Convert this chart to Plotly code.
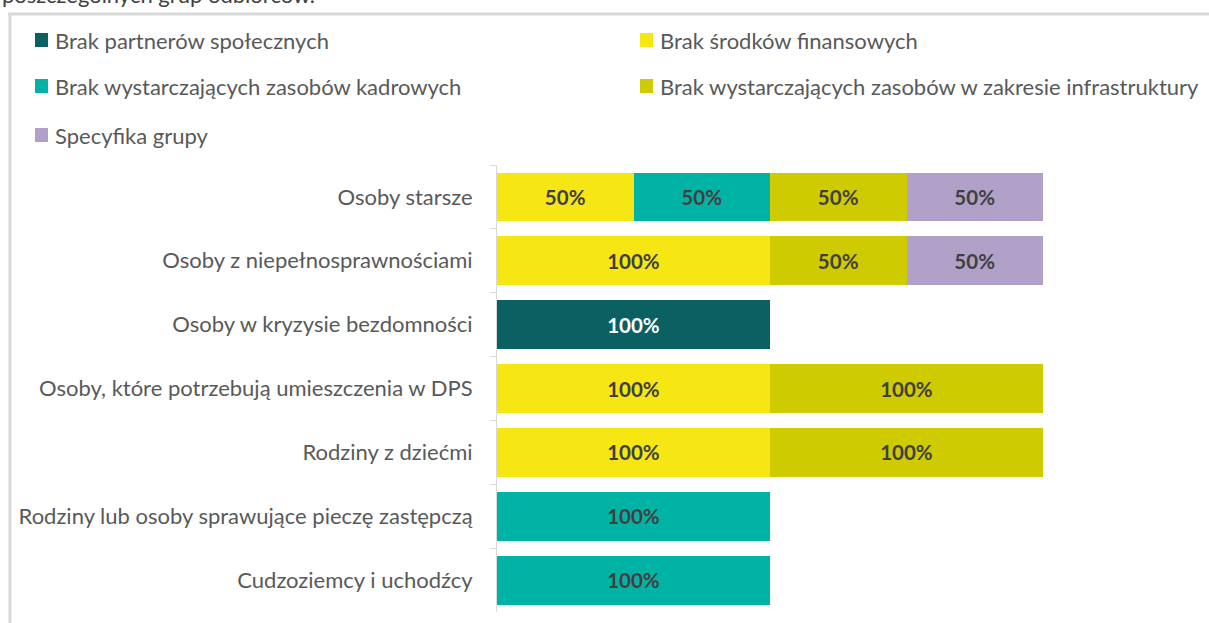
import plotly.graph_objects as go

# Target groups (top to bottom) and barrier shares in %
categories = [
    "Osoby starsze",
    "Osoby z niepełnosprawnościami",
    "Osoby w kryzysie bezdomności",
    "Osoby, które potrzebują umieszczenia w DPS",
    "Rodziny z dziećmi",
    "Rodziny lub osoby sprawujące pieczę zastępczą",
    "Cudzoziemcy i uchodźcy",
]
series_names = [
    "Brak partnerów społecznych",
    "Brak środków finansowych",
    "Brak wystarczających zasobów kadrowych",
    "Brak wystarczających zasobów w zakresie infrastruktury",
    "Specyfika grupy",
]
brak_partnerow = [None, None, 100, None, None, None, None]
brak_srodkow = [50, 100, None, 100, 100, None, None]
brak_kadr = [50, None, None, None, None, 100, 100]
brak_infrastruktury = [50, 50, None, 100, 100, None, None]
specyfika = [50, 50, None, None, None, None, None]

series_values = [brak_partnerow, brak_srodkow, brak_kadr, brak_infrastruktury, specyfika]
colors = ["#0B6161", "#F5E614", "#00B3A4", "#CECB00", "#B1A1C8"]
label_colors = ["#FFFFFF", "#404040", "#404040", "#404040", "#404040"]

FONT = "Lato"

fig = go.Figure()
for name, vals, col, lcol in zip(series_names, series_values, colors, label_colors):
    fig.add_trace(go.Bar(
        y=categories, x=vals, name=name, orientation="h",
        marker=dict(color=col, line=dict(width=0)),
        texttemplate="%{x}%", textposition="inside", insidetextanchor="middle",
        textfont=dict(family=FONT, size=20.5, color=lcol, weight="bold"),
        showlegend=False,
    ))

# Plot-area geometry in pixels (page is 1209 x 623)
W, H = 1209, 623
L, R, T, B = 497, 1043, 165, 612

def px(x):
    return (x - L) / (R - L)

def py(y):
    return (B - y) / (B - T)

shapes = []
annotations = []

# Frame lines (left and top)
shapes.append(dict(type="line", xref="paper", yref="paper",
                   x0=px(10), x1=px(10), y0=py(14), y1=py(640),
                   line=dict(color="#D9D9D9", width=3)))
shapes.append(dict(type="line", xref="paper", yref="paper",
                   x0=px(8), x1=px(1209), y0=py(14), y1=py(14),
                   line=dict(color="#D9D9D9", width=3)))

# Heading line above the frame (runs off the top edge)
annotations.append(dict(text="poszczególnych grup odbiorców.", xref="paper", yref="paper",
                        x=px(0), y=py(10), xanchor="left", yanchor="bottom",
                        showarrow=False, font=dict(family=FONT, size=22, color="#404040")))

# Legend drawn as swatches + labels, two columns
legend_pos = [(35, 40), (640, 40), (35, 86), (640, 86), (35, 135)]
for (lx, ly), name, col in zip(legend_pos, series_names, colors):
    shapes.append(dict(type="rect", xref="paper", yref="paper",
                       x0=px(lx), x1=px(lx + 13), y0=py(ly - 7), y1=py(ly + 7),
                       fillcolor=col, line=dict(width=0)))
    annotations.append(dict(text=name, xref="paper", yref="paper",
                            x=px(lx + 18), y=py(ly), xanchor="left", yanchor="middle",
                            showarrow=False,
                            font=dict(family=FONT, size=22, color="#595959")))

fig.update_layout(
    width=W, height=H,
    margin=dict(l=L, r=W - R, t=T, b=H - B, pad=0),
    barmode="stack", bargap=0.235,
    plot_bgcolor="white", paper_bgcolor="white",
    xaxis=dict(range=[0, 200], visible=False, fixedrange=True),
    yaxis=dict(categoryorder="array", categoryarray=categories, autorange="reversed",
               showline=True, linecolor="#D9D9D9", linewidth=1,
               ticks="outside", tickson="boundaries", ticklen=6, tickcolor="#D9D9D9",
               ticklabelstandoff=19,
               tickfont=dict(family=FONT, size=22, color="#595959"),
               showgrid=False),
    shapes=shapes, annotations=annotations,
    uniformtext=dict(mode=None),
)

fig.write_html("out.html")
